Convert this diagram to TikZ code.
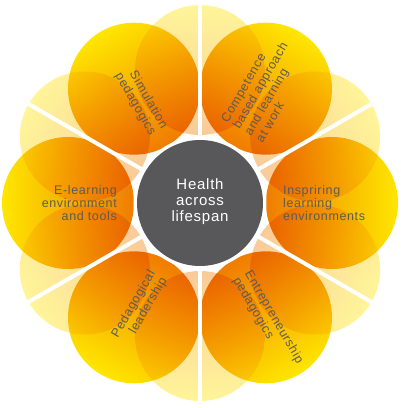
\documentclass[tikz,border=0pt]{standalone}
\usepackage{fontspec}
\setmainfont{Liberation Sans}[LetterSpace=5]
\definecolor{yel}{HTML}{FFE600}
\definecolor{mid}{HTML}{FFAA00}
\definecolor{org}{HTML}{F07C00}
\definecolor{greyc}{HTML}{58585A}
\definecolor{txt}{HTML}{5E5A55}
\begin{document}
\begin{tikzpicture}[x=1pt,y=1pt,
  lbl/.style={text=txt, inner sep=0pt, font=\fontsize{12.5}{13.4}\selectfont},
  ctr/.style={text=white, inner sep=0pt, align=center, font=\fontsize{15}{16}\selectfont},
  sep/.style={white, line width=4pt}]
\useasboundingbox (-200,-205) rectangle (200,203);
% pale circles
\foreach \a in {30,90,...,330} {
  \pgfmathsetmacro\sa{\a-90}
  \shade[top color=yel, middle color=mid, bottom color=org, shading angle=\sa, opacity=0.4] (\a:133) circle (65);
}
% orange circles
\begin{scope}[blend mode=multiply]
\foreach \a in {0,60,...,300} {
  \pgfmathsetmacro\sa{\a-90}
  \shade[top color=yel, middle color=mid, bottom color=org, shading angle=\sa] (\a:132) circle (66);
}
\end{scope}
% separators
\foreach \a in {30,90,...,330} {
  \draw[sep] (\a:60) -- (\a:205);
}
\fill[white] (0,0) circle (66.5);
\fill[greyc] (0,0) circle (63);
\node[ctr] (c) at (0,1) {Health\\across\\lifespan};
\node[lbl, anchor=west, align=left] (l0) at (0:83) {Inspriring\\learning\\environments};
\node[lbl, rotate=60, anchor=west, align=left] (l60) at (60:83) {Competence\\based approach\\and learning\\at work};
\node[lbl, rotate=-60, anchor=east, align=right] (l120) at (120:83) {Simulation\\pedagogics};
\node[lbl, anchor=east, align=right] (l180) at (180:83) {E-learning\\environment\\and tools};
\node[lbl, rotate=60, anchor=east, align=right] (l240) at (240:83) {Pedagogical\\leadership};
\node[lbl, rotate=-60, anchor=west, align=left] (l300) at (300:83) {Entrepreneurship\\pedagogics};
\end{tikzpicture}
\end{document}
